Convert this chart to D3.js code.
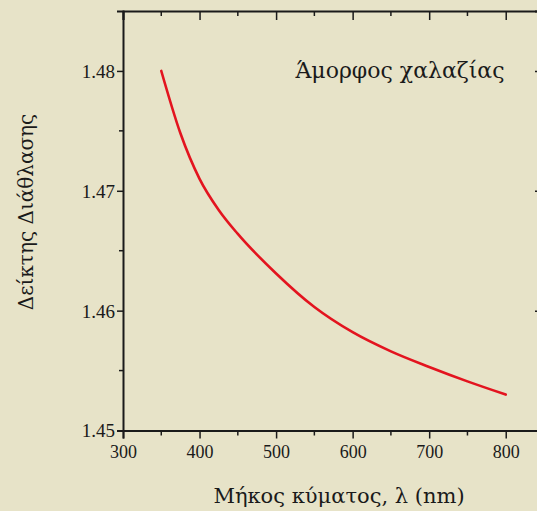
<!DOCTYPE html>
<html><head><meta charset="utf-8">
<script src="https://cdn.jsdelivr.net/npm/d3@7/dist/d3.min.js"></script>
<style>
html,body{margin:0;padding:0;background:#e7e3c8;}
svg{display:block;}
</style></head>
<body>
<svg id="c" width="537" height="511"></svg>
<script>
const wavelengths = [350, 375, 400, 425, 450, 500, 550, 600, 650, 700, 750, 800];
const refractiveIndex = [1.4800, 1.4748, 1.4710, 1.4684, 1.4664, 1.4631, 1.4603, 1.4582, 1.4566, 1.4553, 1.4541, 1.4530];
const xTicks = [300, 400, 500, 600, 700, 800];
const xMinor = [350, 450, 550, 650, 750];
const yTicks = [1.45, 1.46, 1.47, 1.48];
const yMinor = [1.455, 1.465, 1.475];
const xTitle = "Μήκος κύματος, λ (nm)";
const yTitle = "Δείκτης Διάθλασης";
const annotation = "Άμορφος χαλαζίας";

const FONT = "'Liberation Serif','Times New Roman',serif";
const GREEK = "DejaVu Serif";
const INK = "#1a1a1a";
const svg = d3.select("#c");
const L = 123, R = 544, T = 11, B = 430.5;
const x = d3.scaleLinear().domain([300, 850]).range([L, R]);
const y = d3.scaleLinear().domain([1.45, 1.485]).range([B, T]);

svg.append("rect").attr("width",537).attr("height",511).attr("fill","#e7e3c8");

const gb = svg.append("g").attr("transform",`translate(0,${B})`)
  .call(d3.axisBottom(x).tickValues(xTicks).tickFormat(d3.format("d")).tickSize(8).tickPadding(7));
gb.append("g").selectAll("line").data(xMinor).join("line")
  .attr("x1",d=>x(d)).attr("x2",d=>x(d)).attr("y1",0).attr("y2",5).attr("stroke",INK).attr("stroke-width",1.5);
const gt = svg.append("g").attr("transform",`translate(0,${T})`)
  .call(d3.axisTop(x).tickValues(xTicks).tickFormat("").tickSize(-9));
gt.append("g").selectAll("line").data(xMinor).join("line")
  .attr("x1",d=>x(d)).attr("x2",d=>x(d)).attr("y1",0).attr("y2",5).attr("stroke",INK).attr("stroke-width",1.5);
const gl = svg.append("g").attr("transform",`translate(${L},0)`)
  .call(d3.axisLeft(y).tickValues(yTicks).tickFormat(d3.format(".2f")).tickSize(6).tickPadding(2));
gl.append("g").selectAll("line").data(yMinor).join("line")
  .attr("y1",d=>y(d)).attr("y2",d=>y(d)).attr("x1",0).attr("x2",-4).attr("stroke",INK).attr("stroke-width",1.5);
const gr = svg.append("g").attr("transform",`translate(${R},0)`)
  .call(d3.axisRight(y).tickValues(yTicks).tickFormat("").tickSize(-9));

[gb,gt,gl,gr].forEach(g=>{
  g.select(".domain").attr("stroke",INK).attr("stroke-width",2);
  g.selectAll(".tick line").attr("stroke",INK).attr("stroke-width",1.5);
  g.selectAll(".tick text").attr("fill",INK).attr("font-family",FONT);
});
gb.selectAll(".tick text").attr("font-size",18);
gl.selectAll(".tick text").attr("font-size",19).attr("dy","0.34em");

const pts = wavelengths.map((w,i)=>[w, refractiveIndex[i]]);
svg.append("path").datum(pts)
  .attr("fill","none").attr("stroke","#e3141f").attr("stroke-width",2.6).attr("stroke-linecap","round")
  .attr("d", d3.line().x(d=>x(d[0])).y(d=>y(d[1])).curve(d3.curveMonotoneX));

svg.append("text").attr("x",339).attr("y",503).attr("text-anchor","middle")
  .attr("font-family",GREEK).attr("font-size",21).attr("fill",INK).text(xTitle);
svg.append("text").attr("transform","translate(33,212) rotate(-90)").attr("text-anchor","middle")
  .attr("font-family",GREEK).attr("font-size",20).attr("fill",INK).text(yTitle);
svg.append("text").attr("x",400).attr("y",78).attr("text-anchor","middle")
  .attr("font-family",GREEK).attr("font-size",22).attr("fill",INK).text(annotation);
</script>
</body></html>
